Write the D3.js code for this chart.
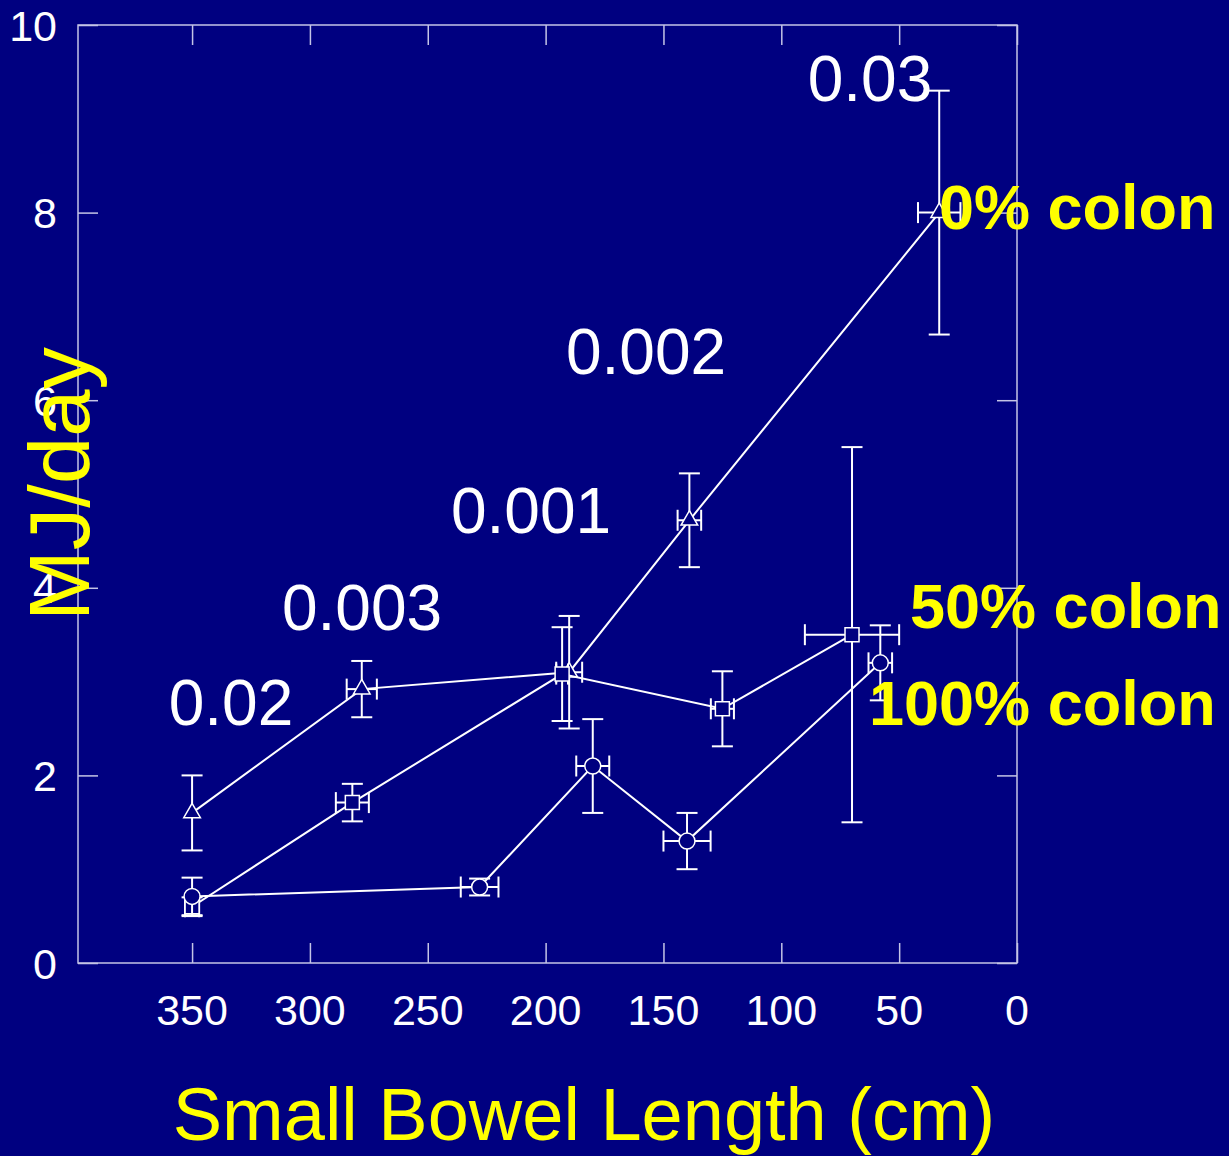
<!DOCTYPE html>
<html>
<head>
<meta charset="utf-8">
<script src="https://cdn.jsdelivr.net/npm/d3@7"></script>
<style>
html,body{margin:0;padding:0;background:#000080;}
svg{display:block;}
text{font-family:"Liberation Sans",Arial,Helvetica,sans-serif;}
</style>
</head>
<body>
<script>
// ---- data ----
// 0% colon (triangles)
const tri_x   = [350, 278, 190, 139, 33];
const tri_y   = [1.6, 2.92, 3.1, 4.72, 8.0];
const tri_ye  = [0.4, 0.3, 0.6, 0.5, 1.3];
const tri_xe  = [0, 6.4, 5.5, 5, 9];
// 50% colon (squares)
const sq_x    = [350, 282, 193, 125, 70];
const sq_y    = [0.6, 1.71, 3.08, 2.71, 3.5];
const sq_ye   = [0.1, 0.2, 0.5, 0.4, 2.0];
const sq_xe   = [3, 7, 2.5, 4.9, 20];
// 100% colon (circles)
const ci_x    = [350, 228, 180, 140, 58];
const ci_y    = [0.71, 0.81, 2.1, 1.3, 3.2];
const ci_ye   = [0.2, 0.09, 0.5, 0.3, 0.4];
const ci_xe   = [0, 8, 7, 10, 5];
// tick labels
const xTicks = [350, 300, 250, 200, 150, 100, 50, 0];
const yTicks = [0, 2, 4, 6, 8, 10];
// annotations: p-values
const pLabels = ["0.02", "0.003", "0.001", "0.002", "0.03"];
const pX      = [231, 362, 531, 646, 870];
const pY      = [725, 630, 533, 374, 101];
// series labels
const sLabels = ["0% colon", "50% colon", "100% colon"];
const sX      = [939, 910, 869];
const sY      = [229, 628, 725];

// ---- drawing ----
const W = 1229, H = 1156;
const svg = d3.select("body").append("svg").attr("width", W).attr("height", H);
svg.append("rect").attr("width", W).attr("height", H).attr("fill", "#000080");

const x = d3.scaleLinear().domain([398.4, 0]).range([78, 1017]);
const y = d3.scaleLinear().domain([0, 10]).range([963, 25]);
const frameCol = "#c4c4e6";

// frame
svg.append("rect")
  .attr("x", x(398.4)).attr("y", y(10))
  .attr("width", x(0) - x(398.4)).attr("height", y(0) - y(10))
  .attr("fill", "none").attr("stroke", frameCol).attr("stroke-width", 1.5);

// axes with inward ticks
const tl = 20;
const gB = svg.append("g").attr("transform", `translate(0,${y(0)})`)
  .call(d3.axisBottom(x).tickValues(xTicks).tickSize(-tl).tickFormat(""));
const gT = svg.append("g").attr("transform", `translate(0,${y(10)})`)
  .call(d3.axisTop(x).tickValues(xTicks).tickSize(-tl).tickFormat(""));
const gL = svg.append("g").attr("transform", `translate(${x(398.4)},0)`)
  .call(d3.axisLeft(y).tickValues(yTicks).tickSize(-tl).tickFormat(""));
const gR = svg.append("g").attr("transform", `translate(${x(0)},0)`)
  .call(d3.axisRight(y).tickValues(yTicks).tickSize(-tl).tickFormat(""));
[gB, gT, gL, gR].forEach(g => {
  g.select(".domain").remove();
  g.selectAll("line").attr("stroke", frameCol).attr("stroke-width", 1.5);
});

// tick labels
svg.append("g").selectAll("text").data(xTicks).join("text")
  .attr("x", d => x(d)).attr("y", 1025)
  .attr("text-anchor", "middle").attr("fill", "#ffffff")
  .attr("font-size", 43).text(d => d);
svg.append("g").selectAll("text").data(yTicks).join("text")
  .attr("x", 57).attr("y", d => y(d) + 15.5)
  .attr("text-anchor", "end").attr("fill", "#ffffff")
  .attr("font-size", 43).text(d => d);

// axis titles
svg.append("text").attr("x", 584).attr("y", 1140)
  .attr("text-anchor", "middle").attr("fill", "#ffff00")
  .attr("font-size", 74).text("Small Bowel Length (cm)");
svg.append("text").attr("transform", "translate(89,484) rotate(-90)")
  .attr("text-anchor", "middle").attr("fill", "#ffff00")
  .attr("font-size", 85).text("MJ/day");

// series
const series = [
  {xs: tri_x, ys: tri_y, ye: tri_ye, xe: tri_xe, sym: d3.symbolTriangle, size: 120},
  {xs: sq_x,  ys: sq_y,  ye: sq_ye,  xe: sq_xe,  sym: d3.symbolSquare,   size: 196},
  {xs: ci_x,  ys: ci_y,  ye: ci_ye,  xe: ci_xe,  sym: d3.symbolCircle,   size: 200}
];
const cap = 10.5;
const line = d3.line().x(d => x(d[0])).y(d => y(d[1]));

series.forEach(s => {
  const pts = s.xs.map((v, i) => [v, s.ys[i], s.xe[i], s.ye[i]]);
  const g = svg.append("g");
  g.append("path").attr("d", line(pts)).attr("fill", "none")
    .attr("stroke", "#ffffff").attr("stroke-width", 2);
  const eb = g.append("g").attr("stroke", "#ffffff").attr("stroke-width", 2);
  pts.forEach(p => {
    const cx = x(p[0]), cy = y(p[1]);
    if (p[3] > 0) {
      const y1 = y(p[1] + p[3]), y2 = y(p[1] - p[3]);
      eb.append("line").attr("x1", cx).attr("x2", cx).attr("y1", y1).attr("y2", y2);
      eb.append("line").attr("x1", cx - cap).attr("x2", cx + cap).attr("y1", y1).attr("y2", y1);
      eb.append("line").attr("x1", cx - cap).attr("x2", cx + cap).attr("y1", y2).attr("y2", y2);
    }
    if (p[2] > 0) {
      const x1 = x(p[0] + p[2]), x2 = x(p[0] - p[2]);
      eb.append("line").attr("x1", x1).attr("x2", x2).attr("y1", cy).attr("y2", cy);
      eb.append("line").attr("x1", x1).attr("x2", x1).attr("y1", cy - cap).attr("y2", cy + cap);
      eb.append("line").attr("x1", x2).attr("x2", x2).attr("y1", cy - cap).attr("y2", cy + cap);
    }
  });
  g.selectAll("path.m").data(pts).join("path").attr("class", "m")
    .attr("d", d3.symbol().type(s.sym).size(s.size))
    .attr("transform", d => `translate(${x(d[0])},${y(d[1])})`)
    .attr("fill", "#000080").attr("stroke", "#ffffff").attr("stroke-width", 1.5);
});

// p-value labels
svg.append("g").selectAll("text").data(pLabels).join("text")
  .attr("x", (d, i) => pX[i]).attr("y", (d, i) => pY[i])
  .attr("text-anchor", "middle").attr("fill", "#ffffff")
  .attr("font-size", 64).text(d => d);

// series labels
svg.append("g").selectAll("text").data(sLabels).join("text")
  .attr("x", (d, i) => sX[i]).attr("y", (d, i) => sY[i])
  .attr("fill", "#ffff00").attr("font-weight", "bold")
  .attr("font-size", 63).text(d => d);
</script>
</body>
</html>
